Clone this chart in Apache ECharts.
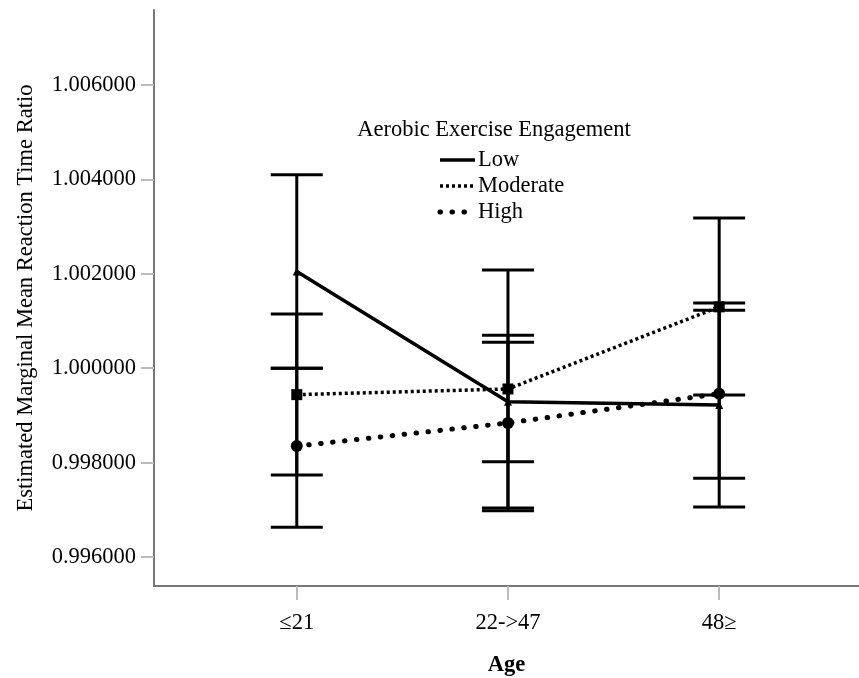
<!DOCTYPE html>
<html>
<head>
<meta charset="utf-8">
<script src="https://cdn.jsdelivr.net/npm/echarts@6/dist/echarts.min.js"></script>
<style>
  html, body { margin: 0; padding: 0; background: #fff; }
  #main { width: 859px; height: 678px; }
</style>
</head>
<body>
<div id="main"></div>
<script>
// age groups and estimated marginal means with 95% CI
var ageGroups = ['≤21', '22->47', '48≥'];
var lowMean  = [1.00205, 0.99929, 0.99922];
var lowLower = [1.00000, 0.99802, 0.99706];
var lowUpper = [1.00410, 1.00055, 1.00138];
var modMean  = [0.99944, 0.99956, 1.00130];
var modLower = [0.99774, 0.99704, 0.99943];
var modUpper = [1.00115, 1.00208, 1.00318];
var highMean  = [0.99835, 0.99884, 0.99946];
var highLower = [0.99663, 0.99698, 0.99767];
var highUpper = [1.00000, 1.00070, 1.00123];
var yTicks = [0.996, 0.998, 1.000, 1.002, 1.004, 1.006];
var legendNames = ['Low', 'Moderate', 'High'];

var font = 'Liberation Serif';
var fs = 22.5;
var chart = echarts.init(document.getElementById('main'));

function points(mean) {
  return mean.map(function (v, i) { return [i, v]; });
}
function bars(lower, upper) {
  return lower.map(function (v, i) { return [i, v, upper[i]]; });
}

function renderBar(params, api) {
  var x = api.value(0);
  var lo = api.coord([x, api.value(1)]);
  var hi = api.coord([x, api.value(2)]);
  var half = 26;
  var st = { stroke: '#000', lineWidth: 3 };
  return {
    type: 'group',
    children: [
      { type: 'line', shape: { x1: lo[0], y1: lo[1], x2: hi[0], y2: hi[1] }, style: st },
      { type: 'line', shape: { x1: lo[0] - half, y1: lo[1], x2: lo[0] + half, y2: lo[1] }, style: st },
      { type: 'line', shape: { x1: hi[0] - half, y1: hi[1], x2: hi[0] + half, y2: hi[1] }, style: st }
    ]
  };
}

var lineStyles = [
  { color: '#000', width: 3.5, type: 'solid' },
  { color: '#000', width: 3.5, type: [3, 3] },
  { color: '#000', width: 5, type: [0.5, 11.5], cap: 'round' }
];

var legendY = [160, 186, 212];
var legendGraphic = [{
  type: 'text',
  style: { text: 'Aerobic Exercise Engagement', x: 494, y: 130, align: 'center', verticalAlign: 'middle',
    font: fs + 'px "' + font + '"', fill: '#000' }
}];
legendNames.forEach(function (name, i) {
  var ls = lineStyles[i];
  legendGraphic.push({
    type: 'line',
    shape: { x1: 440, y1: legendY[i], x2: 475, y2: legendY[i] },
    style: { stroke: ls.color, lineWidth: ls.width, lineDash: ls.type === 'solid' ? null : ls.type, lineCap: ls.cap || 'butt' }
  });
  legendGraphic.push({
    type: 'text',
    style: { text: name, x: 478, y: legendY[i], verticalAlign: 'middle',
      font: fs + 'px "' + font + '"', fill: '#000' }
  });
});

var option = {
  backgroundColor: '#fff',
  animation: false,
  textStyle: { fontFamily: font },
  grid: { left: 154, right: 0, top: 10, bottom: 92, outerBoundsMode: 'none' },
  xAxis: {
    type: 'value',
    min: -0.676,
    max: 2.662,
    name: 'Age',
    nameLocation: 'middle',
    nameGap: 68,
    nameTextStyle: { fontFamily: font, fontSize: fs, fontWeight: 'bold', color: '#000' },
    axisLine: { show: true, onZero: false, lineStyle: { color: '#777', width: 2 } },
    axisTick: { show: true, length: 14, customValues: [0, 1, 2], lineStyle: { color: '#bbb', width: 2 } },
    axisLabel: {
      customValues: [0, 1, 2],
      margin: 26,
      fontFamily: font, fontSize: fs, color: '#000',
      formatter: function (v) { return ageGroups[Math.round(v)]; }
    },
    splitLine: { show: false }
  },
  yAxis: {
    type: 'value',
    min: 0.995386,
    max: 1.007589,
    name: 'Estimated Marginal Mean Reaction Time Ratio',
    nameLocation: 'middle',
    nameGap: 116,
    nameTextStyle: { fontFamily: font, fontSize: fs, color: '#000' },
    axisLine: { show: true, onZero: false, lineStyle: { color: '#777', width: 2 } },
    axisTick: { show: true, length: 13, customValues: yTicks, lineStyle: { color: '#bbb', width: 2 } },
    axisLabel: {
      customValues: yTicks,
      margin: 18,
      fontFamily: font, fontSize: fs, color: '#000',
      formatter: function (v) { return v.toFixed(6); }
    },
    splitLine: { show: false }
  },
  series: [
    { name: 'Low', type: 'custom', renderItem: renderBar, data: bars(lowLower, lowUpper), encode: { x: 0, y: [1, 2] }, z: 1 },
    { name: 'Moderate', type: 'custom', renderItem: renderBar, data: bars(modLower, modUpper), encode: { x: 0, y: [1, 2] }, z: 1 },
    { name: 'High', type: 'custom', renderItem: renderBar, data: bars(highLower, highUpper), encode: { x: 0, y: [1, 2] }, z: 1 },
    { name: 'Low', type: 'line', data: points(lowMean), symbol: 'triangle', symbolSize: 8,
      itemStyle: { color: '#000' }, lineStyle: lineStyles[0], z: 3 },
    { name: 'Moderate', type: 'line', data: points(modMean), symbol: 'rect', symbolSize: 11,
      itemStyle: { color: '#000' }, lineStyle: lineStyles[1], z: 3 },
    { name: 'High', type: 'line', data: points(highMean), symbol: 'circle', symbolSize: 12,
      itemStyle: { color: '#000' }, lineStyle: lineStyles[2], z: 3 }
  ],
  graphic: legendGraphic
};

chart.setOption(option);
</script>
</body>
</html>
